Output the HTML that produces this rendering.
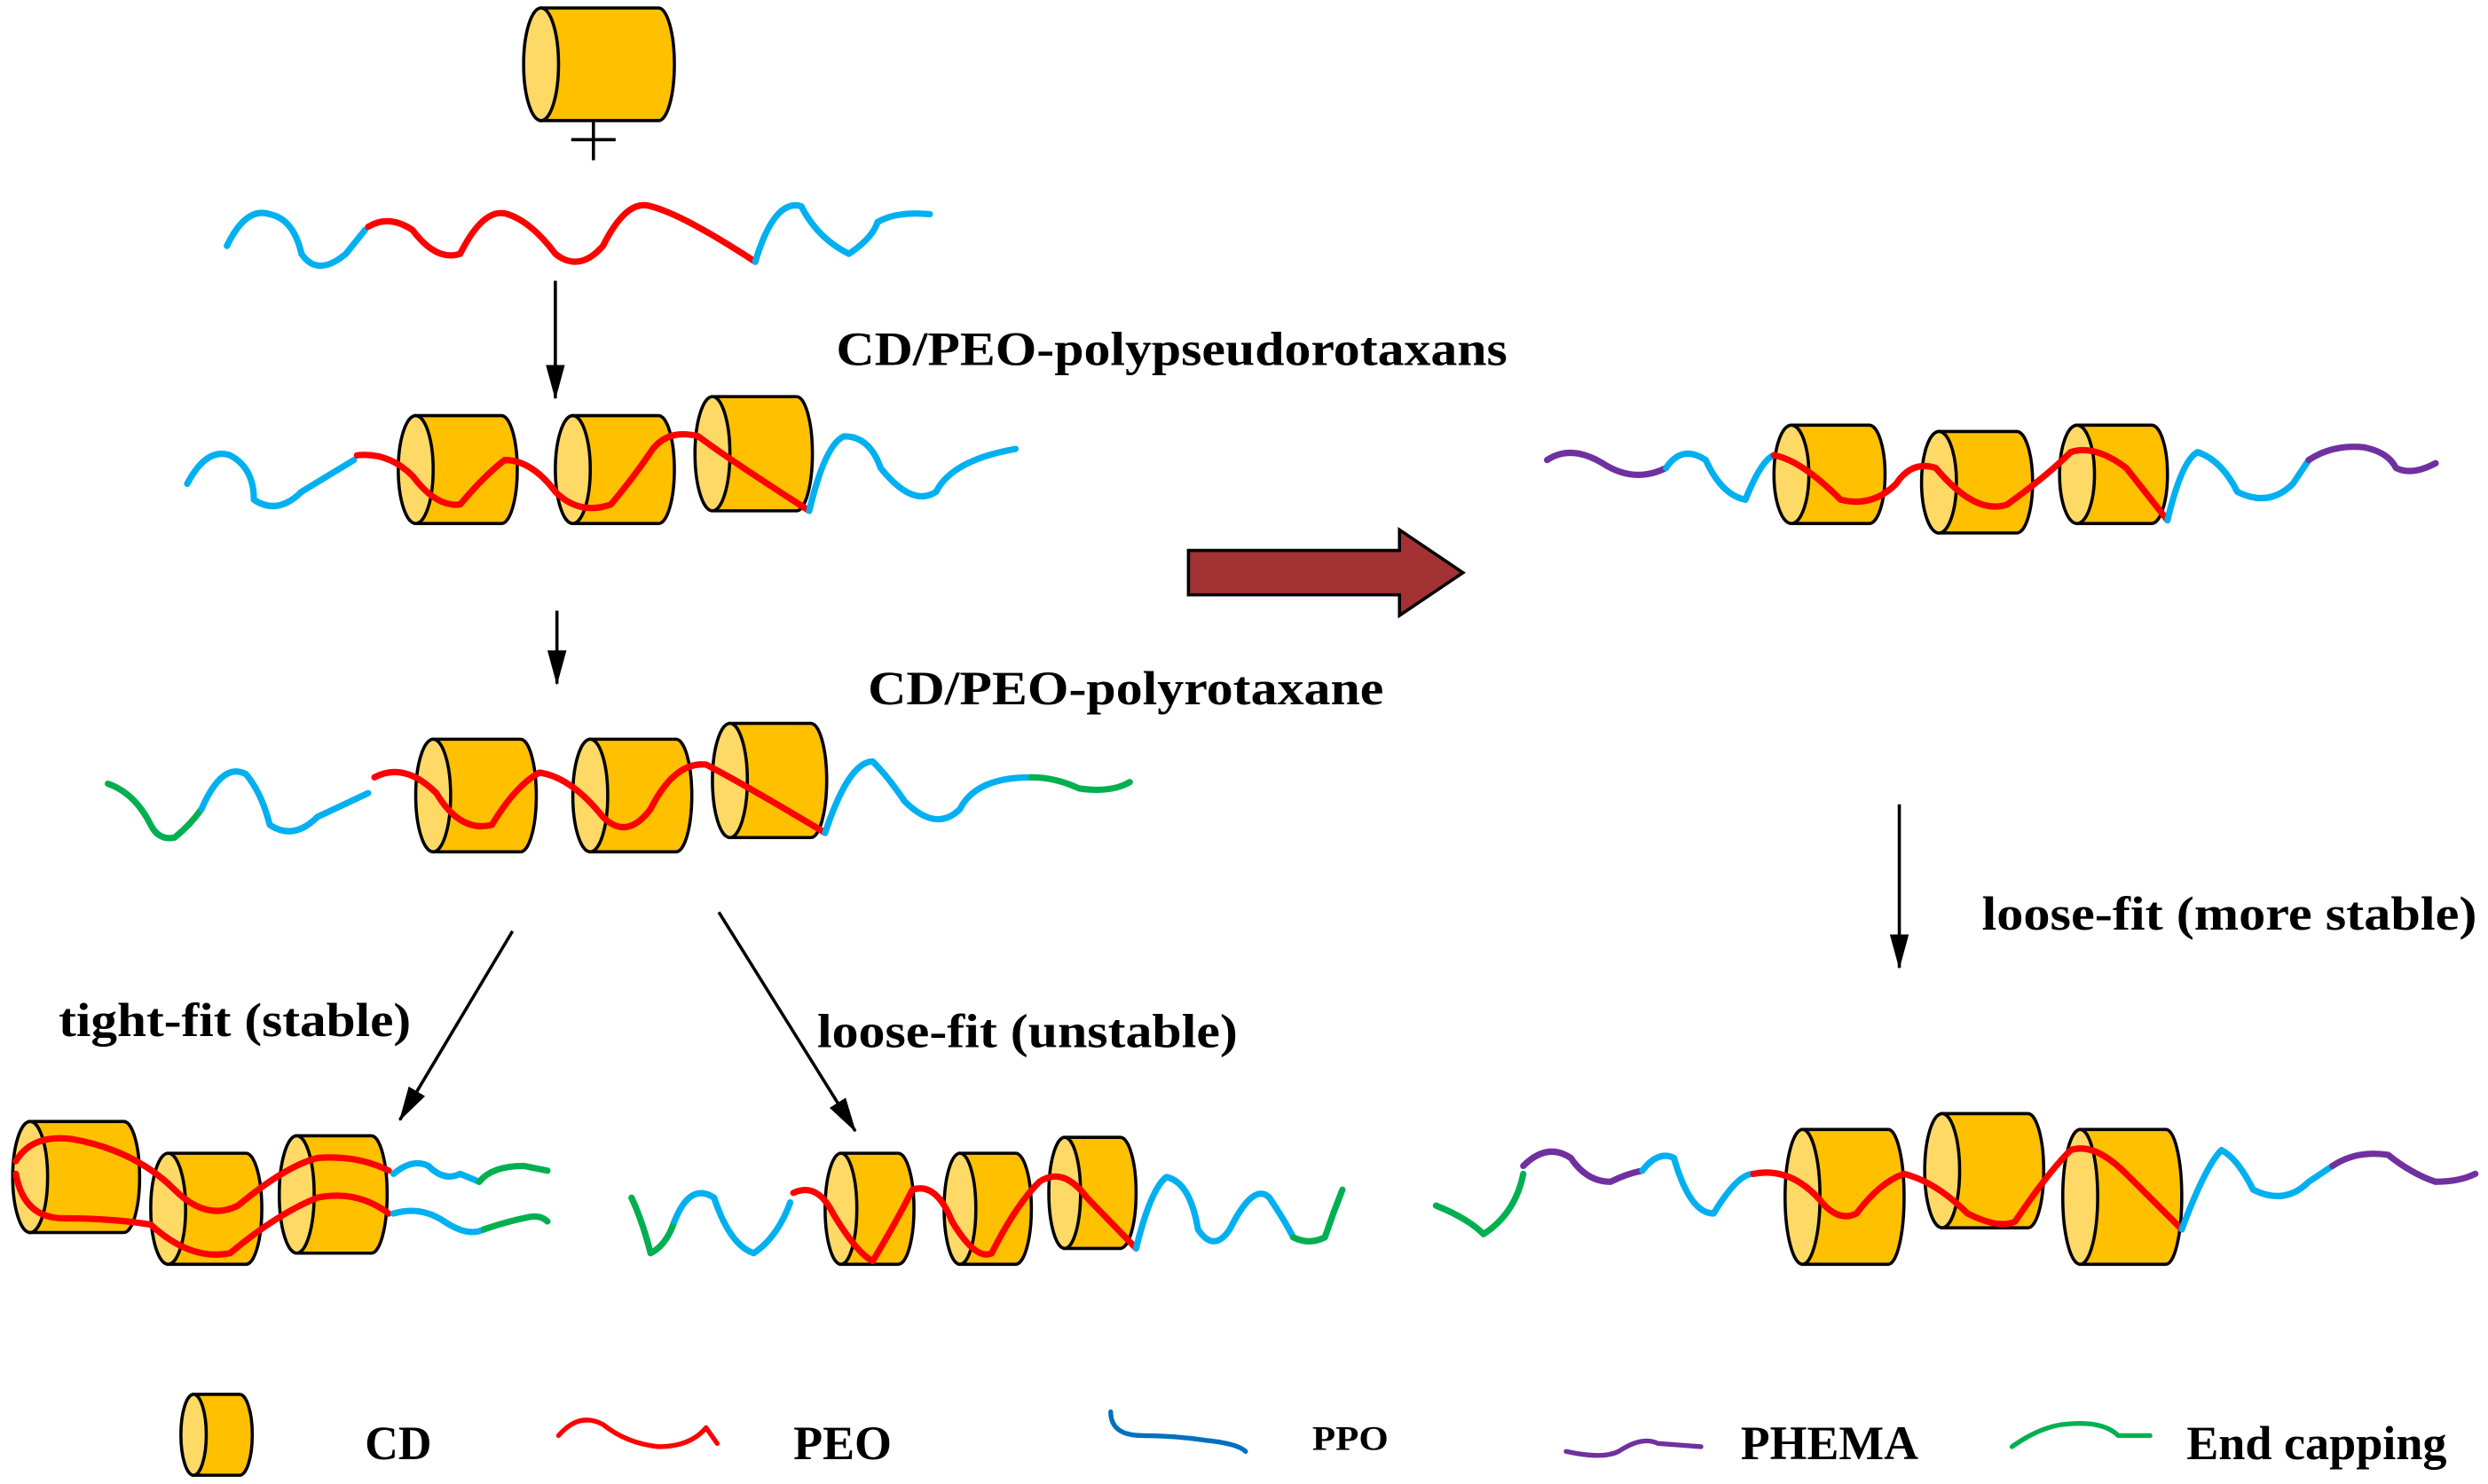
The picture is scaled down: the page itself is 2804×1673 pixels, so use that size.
<!DOCTYPE html>
<html><head><meta charset="utf-8"><style>html,body{margin:0;padding:0;background:#fff;}svg{display:block}</style></head>
<body>
<svg width="2804" height="1673" viewBox="0 0 1568 935.5" xmlns="http://www.w3.org/2000/svg">
<defs>
<marker id="ah" viewBox="0 0 22 12" refX="21" refY="6" markerWidth="22" markerHeight="12" markerUnits="userSpaceOnUse" orient="auto"><path d="M0,0 L22,6 L0,12 Z" fill="#000"/></marker>
</defs>
<g stroke="#000" stroke-width="2" fill="none">
<line x1="350" y1="177" x2="350" y2="251" marker-end="url(#ah)"/>
<line x1="351" y1="385" x2="351" y2="431" marker-end="url(#ah)"/>
<line x1="323" y1="587" x2="252" y2="706" marker-end="url(#ah)"/>
<line x1="453" y1="575" x2="539" y2="713" marker-end="url(#ah)"/>
<line x1="1197" y1="507" x2="1197" y2="610" marker-end="url(#ah)"/>
<line x1="360" y1="88" x2="388" y2="88"/>
<line x1="374" y1="77" x2="374" y2="101"/>
</g>
<path d="M749,347 L882,347 L882,334 L922,361 L882,388 L882,375 L749,375 Z" fill="#a33234" stroke="#000" stroke-width="2"/>
<g stroke="#000" stroke-width="2">
<path d="M341,5 L415,5 A10,35.5 0 0 1 415,76 L341,76 Z" fill="#ffc000"/><ellipse cx="341" cy="40.5" rx="11" ry="35.5" fill="#ffd966"/>
<path d="M262,262 L316,262 A10,34 0 0 1 316,330 L262,330 Z" fill="#ffc000"/><ellipse cx="262" cy="296" rx="11" ry="34" fill="#ffd966"/>
<path d="M361,262 L415,262 A10,34 0 0 1 415,330 L361,330 Z" fill="#ffc000"/><ellipse cx="361" cy="296" rx="11" ry="34" fill="#ffd966"/>
<path d="M449,250 L502,250 A10,36 0 0 1 502,322 L449,322 Z" fill="#ffc000"/><ellipse cx="449" cy="286" rx="11" ry="36" fill="#ffd966"/>
<path d="M273,466 L328,466 A10,35.5 0 0 1 328,537 L273,537 Z" fill="#ffc000"/><ellipse cx="273" cy="501.5" rx="11" ry="35.5" fill="#ffd966"/>
<path d="M372,466 L426,466 A10,35.5 0 0 1 426,537 L372,537 Z" fill="#ffc000"/><ellipse cx="372" cy="501.5" rx="11" ry="35.5" fill="#ffd966"/>
<path d="M460,456 L511,456 A10,36 0 0 1 511,528 L460,528 Z" fill="#ffc000"/><ellipse cx="460" cy="492" rx="11" ry="36" fill="#ffd966"/>
<path d="M1129,268 L1178,268 A10,31 0 0 1 1178,330 L1129,330 Z" fill="#ffc000"/><ellipse cx="1129" cy="299" rx="11" ry="31" fill="#ffd966"/>
<path d="M1222,272 L1271,272 A10,32 0 0 1 1271,336 L1222,336 Z" fill="#ffc000"/><ellipse cx="1222" cy="304" rx="11" ry="32" fill="#ffd966"/>
<path d="M1309,268 L1356,268 A10,31 0 0 1 1356,330 L1309,330 Z" fill="#ffc000"/><ellipse cx="1309" cy="299" rx="11" ry="31" fill="#ffd966"/>
<path d="M1136,712 L1190,712 A10,42.5 0 0 1 1190,797 L1136,797 Z" fill="#ffc000"/><ellipse cx="1136" cy="754.5" rx="11" ry="42.5" fill="#ffd966"/>
<path d="M1224,702 L1278,702 A10,36 0 0 1 1278,774 L1224,774 Z" fill="#ffc000"/><ellipse cx="1224" cy="738" rx="11" ry="36" fill="#ffd966"/>
<path d="M1311,712 L1365,712 A10,42.5 0 0 1 1365,797 L1311,797 Z" fill="#ffc000"/><ellipse cx="1311" cy="754.5" rx="11" ry="42.5" fill="#ffd966"/>
<path d="M19,707 L78,707 A10,35 0 0 1 78,777 L19,777 Z" fill="#ffc000"/><ellipse cx="19" cy="742" rx="11" ry="35" fill="#ffd966"/>
<path d="M106,727 L155,727 A10,35 0 0 1 155,797 L106,797 Z" fill="#ffc000"/><ellipse cx="106" cy="762" rx="11" ry="35" fill="#ffd966"/>
<path d="M187,716 L234,716 A10,37 0 0 1 234,790 L187,790 Z" fill="#ffc000"/><ellipse cx="187" cy="753" rx="11" ry="37" fill="#ffd966"/>
<path d="M530,727 L566,727 A10,35 0 0 1 566,797 L530,797 Z" fill="#ffc000"/><ellipse cx="530" cy="762" rx="10" ry="35" fill="#ffd966"/>
<path d="M605,727 L640,727 A10,35 0 0 1 640,797 L605,797 Z" fill="#ffc000"/><ellipse cx="605" cy="762" rx="10" ry="35" fill="#ffd966"/>
<path d="M671,717 L706,717 A10,35 0 0 1 706,787 L671,787 Z" fill="#ffc000"/><ellipse cx="671" cy="752" rx="10" ry="35" fill="#ffd966"/>
<path d="M122,879 L151,879 A8,25.5 0 0 1 151,930 L122,930 Z" fill="#ffc000"/><ellipse cx="122" cy="904.5" rx="8" ry="25.5" fill="#ffd966"/>
</g>
<g fill="none" stroke-width="4" stroke-linecap="round" stroke-linejoin="round">
<path stroke="#00b0f0" d="M143,155 Q155,130 170,135 Q185,138 190,160 Q200,175 218,160 L230,145"/>
<path stroke="#f00" d="M232,143 Q245,135 260,145 Q275,165 290,160 Q305,130 320,135 Q335,140 350,160 Q365,172 380,155 Q395,125 410,130 Q430,135 476,165"/>
<path stroke="#00b0f0" d="M476,165 Q488,125 505,130 Q515,150 535,160 Q550,150 553,140 Q565,133 586,135"/>
<path stroke="#00b0f0" d="M118,305 Q130,282 145,287 Q160,295 160,315 Q175,325 190,310 L223,290"/>
<path stroke="#f00" d="M225,287 Q245,285 260,300 Q275,320 290,318 Q305,300 318,290 Q335,290 350,310 Q365,325 385,318 Q400,300 410,285 Q420,270 440,275 Q460,290 510,322"/>
<path stroke="#00b0f0" d="M510,322 Q520,280 532,275 Q548,275 555,295 Q575,320 590,310 Q600,290 640,283"/>
<path stroke="#00b050" d="M68,494 Q85,500 95,520 Q100,530 110,528 Q120,520 127,510"/>
<path stroke="#00b0f0" d="M127,510 Q140,480 155,488 Q165,500 170,520 Q185,530 200,515 L232,500"/>
<path stroke="#f00" d="M236,490 Q255,480 275,500 Q290,525 310,520 Q325,495 340,487 Q360,490 380,515 Q395,530 410,510 Q425,480 445,482 Q470,495 520,525"/>
<path stroke="#00b0f0" d="M520,525 Q535,480 550,480 Q560,490 570,505 Q590,525 605,510 Q615,490 650,490"/>
<path stroke="#00b050" d="M650,490 Q665,490 680,497 Q700,500 712,493"/>
<path stroke="#7030a0" d="M975,290 Q990,280 1010,292 Q1030,305 1050,295"/>
<path stroke="#00b0f0" d="M1050,295 Q1060,280 1075,290 Q1085,312 1100,315 Q1110,290 1118,287"/>
<path stroke="#f00" d="M1118,287 Q1135,290 1160,315 Q1180,320 1195,305 Q1205,290 1220,295 Q1245,325 1265,318 Q1290,300 1305,285 Q1320,280 1340,295 L1366,328"/>
<path stroke="#00b0f0" d="M1366,328 Q1375,290 1385,285 Q1400,290 1410,310 Q1430,320 1445,305 L1455,290"/>
<path stroke="#7030a0" d="M1455,290 Q1470,280 1490,282 Q1505,285 1510,295 Q1520,300 1535,292"/>
<path stroke="#f00" d="M10,732 Q20,715 45,718 Q85,725 110,750 Q130,770 150,760 Q180,735 200,730 Q225,728 245,738"/>
<path stroke="#f00" d="M10,740 Q15,768 40,768 Q70,768 95,772 Q120,795 145,790 Q175,765 200,755 Q225,750 245,765"/>
<path stroke="#00b0f0" d="M248,740 Q260,730 270,735 Q280,745 290,740 L302,745"/>
<path stroke="#00b050" d="M302,745 Q310,735 330,735 L345,738"/>
<path stroke="#00b0f0" d="M248,765 Q265,760 280,770 Q295,780 305,775"/>
<path stroke="#00b050" d="M305,775 Q320,770 330,768 Q340,765 345,770"/>
<path stroke="#00b050" d="M398,755 Q405,770 410,790 Q420,785 425,770"/>
<path stroke="#00b0f0" d="M425,770 Q435,745 450,755 Q460,785 475,790 Q490,780 498,758"/>
<path stroke="#f00" d="M500,752 Q515,745 525,765 Q540,790 550,795 Q565,770 575,750 Q590,745 600,770 Q615,795 625,790 Q640,760 655,745 Q670,735 685,755 L716,787"/>
<path stroke="#00b0f0" d="M716,787 Q725,750 735,742 Q750,745 755,775 Q765,790 775,775 Q790,745 800,755 Q810,770 815,780"/>
<path stroke="#00b050" d="M815,780 Q825,785 835,780 Q840,765 846,750"/>
<path stroke="#00b050" d="M905,760 Q925,768 935,778 Q955,765 960,740"/>
<path stroke="#7030a0" d="M960,735 Q975,720 990,730 Q1000,745 1015,745 Q1025,740 1035,738"/>
<path stroke="#00b0f0" d="M1035,738 Q1045,725 1055,730 Q1065,765 1080,765 Q1095,740 1105,740"/>
<path stroke="#f00" d="M1105,740 Q1130,735 1150,760 Q1160,770 1170,765 Q1185,745 1200,740 Q1220,745 1240,765 Q1260,775 1270,770 Q1290,740 1305,725 Q1320,720 1340,740 L1375,775"/>
<path stroke="#00b0f0" d="M1375,775 Q1390,735 1400,725 Q1410,730 1420,750 Q1440,760 1455,745 L1470,735"/>
<path stroke="#7030a0" d="M1470,735 Q1485,725 1505,728 Q1520,740 1535,745 Q1550,745 1560,740"/>
<path stroke="#f00" stroke-width="3" d="M352,905 Q365,890 380,898 Q395,910 415,912 Q435,912 445,900 L452,910"/>
<path stroke="#0070c0" stroke-width="3" d="M700,890 Q700,905 720,905 Q740,905 760,908 Q780,910 785,915"/>
<path stroke="#7030a0" stroke-width="3" d="M987,915 Q1010,920 1020,915 Q1035,905 1045,910 L1072,912"/>
<path stroke="#00b050" stroke-width="3" d="M1268,912 Q1285,900 1300,898 Q1325,895 1335,905 L1355,905"/>
</g>
<g font-family="Liberation Serif, serif" font-weight="bold" font-size="30" fill="#000" lengthAdjust="spacingAndGlyphs">
<text x="527" y="230" textLength="423" lengthAdjust="spacingAndGlyphs">CD/PEO-polypseudorotaxans</text>
<text x="547" y="444" textLength="325" lengthAdjust="spacingAndGlyphs">CD/PEO-polyrotaxane</text>
<text x="37" y="653" textLength="222" lengthAdjust="spacingAndGlyphs">tight-fit (stable)</text>
<text x="515" y="660" textLength="265" lengthAdjust="spacingAndGlyphs">loose-fit (unstable)</text>
<text x="1249" y="586" textLength="312" lengthAdjust="spacingAndGlyphs">loose-fit (more stable)</text>
<text x="230" y="920" textLength="42" lengthAdjust="spacingAndGlyphs">CD</text>
<text x="500" y="920" textLength="62" lengthAdjust="spacingAndGlyphs">PEO</text>
<text x="827" y="914" font-size="22" textLength="48" lengthAdjust="spacingAndGlyphs">PPO</text>
<text x="1097" y="920" textLength="112" lengthAdjust="spacingAndGlyphs">PHEMA</text>
<text x="1378" y="920" textLength="164" lengthAdjust="spacingAndGlyphs">End capping</text>
</g>
</svg>
</body></html>
